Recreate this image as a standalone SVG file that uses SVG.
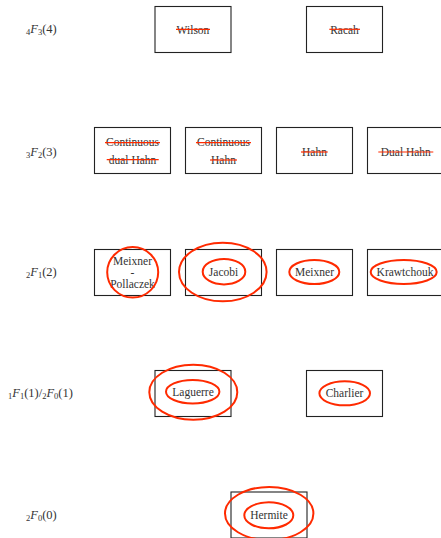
<svg xmlns="http://www.w3.org/2000/svg" width="441" height="538" viewBox="0 0 441 538">
<style>
.box{fill:#fff;stroke:#222;stroke-width:1.1}
.t{font-family:"Liberation Serif","DejaVu Serif",serif;font-size:11.5px;fill:#333;text-anchor:middle}
.m{font-family:"Liberation Serif","DejaVu Serif",serif;font-size:12.5px;fill:#333}
.s{font-size:8.5px}
.it{font-style:italic}
.st{stroke:#ff2a00;stroke-width:1.2}
.e{fill:none;stroke:#ff2a00;stroke-width:2}
</style>
<rect width="441" height="538" fill="#fff"/>
<g id="labels">
<text class="m" x="26" y="33"><tspan class="s" dy="2">4</tspan><tspan class="it" dy="-2">F</tspan><tspan class="s" dy="2">3</tspan><tspan dy="-2">(4)</tspan></text>
<text class="m" x="26" y="155.5"><tspan class="s" dy="2">3</tspan><tspan class="it" dy="-2">F</tspan><tspan class="s" dy="2">2</tspan><tspan dy="-2">(3)</tspan></text>
<text class="m" x="26" y="276"><tspan class="s" dy="2">2</tspan><tspan class="it" dy="-2">F</tspan><tspan class="s" dy="2">1</tspan><tspan dy="-2">(2)</tspan></text>
<text class="m" x="8" y="397"><tspan class="s" dy="2">1</tspan><tspan class="it" dy="-2">F</tspan><tspan class="s" dy="2">1</tspan><tspan dy="-2">(1)/</tspan><tspan class="s" dy="2">2</tspan><tspan class="it" dy="-2">F</tspan><tspan class="s" dy="2">0</tspan><tspan dy="-2">(1)</tspan></text>
<text class="m" x="26" y="519"><tspan class="s" dy="2">2</tspan><tspan class="it" dy="-2">F</tspan><tspan class="s" dy="2">0</tspan><tspan dy="-2">(0)</tspan></text>
</g>
<g id="wilson"><rect class="box" x="155" y="6.5" width="76" height="46"/><text class="t" x="193" y="33.5">Wilson</text><line class="st" x1="176" y1="29.3" x2="210" y2="29.3"/></g>
<g id="racah"><rect class="box" x="306.5" y="6.5" width="76" height="46"/><text class="t" x="344.5" y="33.5">Racah</text><line class="st" x1="329.3" y1="29.3" x2="360" y2="29.3"/></g>
<g id="cont-dual-hahn"><rect class="box" x="94.5" y="127.5" width="76" height="46"/><text class="t" x="132.5" y="146">Continuous</text><text class="t" x="132.5" y="164">dual Hahn</text><line class="st" x1="105" y1="142.7" x2="160" y2="142.7"/><line class="st" x1="106.7" y1="159.7" x2="158.7" y2="159.7"/></g>
<g id="cont-hahn"><rect class="box" x="185.5" y="127.5" width="76" height="46"/><text class="t" x="223.5" y="146">Continuous</text><text class="t" x="223.5" y="164">Hahn</text><line class="st" x1="196" y1="142.7" x2="251" y2="142.7"/><line class="st" x1="210" y1="160" x2="237" y2="160"/></g>
<g id="hahn"><rect class="box" x="276.5" y="127.5" width="76" height="46"/><text class="t" x="314.5" y="155.5">Hahn</text><line class="st" x1="301" y1="152" x2="327.7" y2="152"/></g>
<g id="dual-hahn"><rect class="box" x="367.5" y="127.5" width="76" height="46"/><text class="t" x="405.8" y="155.5">Dual Hahn</text><line class="st" x1="378.3" y1="152" x2="433.3" y2="152"/></g>
<g id="meixner-pollaczek"><rect class="box" x="94.5" y="249.5" width="76" height="46"/><text class="t" x="132.5" y="265">Meixner</text><text class="t" x="132.5" y="276">-</text><text class="t" x="132.5" y="287.5">Pollaczek</text><ellipse class="e" cx="132.7" cy="272.3" rx="25.5" ry="25.2"/></g>
<g id="jacobi"><rect class="box" x="185.5" y="249.5" width="76" height="46"/><text class="t" x="223.5" y="276">Jacobi</text><ellipse class="e" cx="222.8" cy="272" rx="43.8" ry="29.3"/><ellipse class="e" cx="224" cy="271.7" rx="21.3" ry="12.7"/></g>
<g id="meixner"><rect class="box" x="276.5" y="249.5" width="76" height="46"/><text class="t" x="314.5" y="276">Meixner</text><ellipse class="e" cx="314.3" cy="272" rx="25" ry="12"/></g>
<g id="krawtchouk"><rect class="box" x="367.5" y="249.5" width="76" height="46"/><text class="t" x="405" y="276">Krawtchouk</text><ellipse class="e" cx="403.7" cy="272" rx="33" ry="12"/></g>
<g id="laguerre"><rect class="box" x="155" y="370.5" width="76" height="46"/><text class="t" x="193" y="396">Laguerre</text><ellipse class="e" cx="193.3" cy="392.2" rx="44" ry="27.5"/><ellipse class="e" cx="192.7" cy="391.7" rx="26.7" ry="11.7"/></g>
<g id="charlier"><rect class="box" x="306.5" y="370.5" width="76" height="46"/><text class="t" x="344.5" y="397">Charlier</text><ellipse class="e" cx="344.7" cy="393.3" rx="25.3" ry="12"/></g>
<g id="hermite"><rect class="box" x="231" y="492" width="76" height="46"/><text class="t" x="269" y="519">Hermite</text><ellipse class="e" cx="269.2" cy="513.5" rx="44.2" ry="26.5"/><ellipse class="e" cx="268.8" cy="515.3" rx="24.5" ry="13"/></g>
<g id="connectors"></g>
</svg>
